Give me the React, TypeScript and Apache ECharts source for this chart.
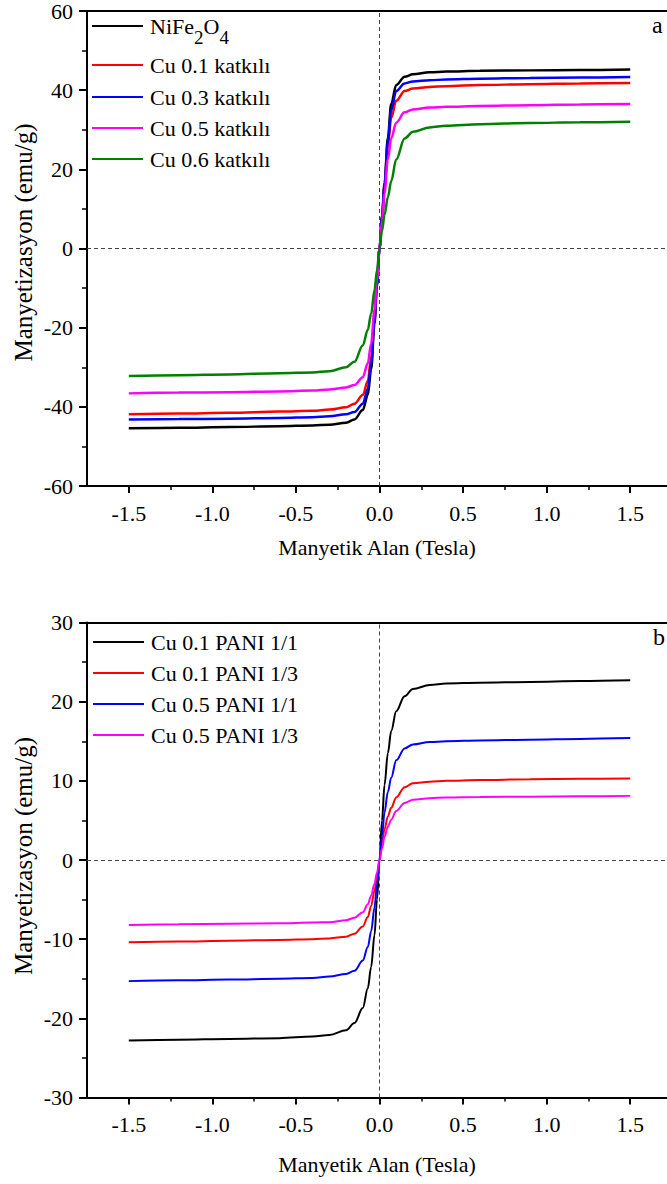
import React, { useEffect, useRef } from "react";
import * as echarts from "echarts";

// Applied field (Tesla), shared by every curve
const fieldTesla = [
  -1.5, -1.2, -0.9, -0.6, -0.4, -0.3, -0.2, -0.15, -0.1, -0.07, -0.05, -0.03, -0.015, 0,
  0.015, 0.03, 0.05, 0.07, 0.1, 0.15, 0.2, 0.3, 0.4, 0.6, 0.9, 1.2, 1.5,
];

// Panel a: doped ferrites (emu/g)
const nife2o4 = [
  -45.4, -45.3, -45.1, -44.9, -44.7, -44.5, -44.0, -43.2, -40.8, -37.0, -30.5, -19.0, -9.5, 0,
  8.3, 16.5, 28.0, 36.5, 41.3, 43.4, 44.0, 44.5, 44.7, 44.9, 45.0, 45.1, 45.2,
];
const cu01 = [
  -41.9, -41.7, -41.5, -41.2, -41.0, -40.7, -40.1, -39.2, -37.0, -33.5, -27.5, -17.0, -8.5, 0,
  7.8, 15.5, 26.0, 33.0, 37.3, 39.8, 40.4, 40.8, 41.0, 41.3, 41.5, 41.7, 41.8,
];
const cu03 = [
  -43.2, -43.1, -43.0, -42.8, -42.6, -42.4, -41.9, -41.3, -39.2, -35.5, -29.0, -18.0, -9.0, 0,
  8.0, 16.0, 27.0, 35.0, 39.8, 41.7, 42.2, 42.5, 42.7, 42.9, 43.1, 43.2, 43.3,
];
const cu05 = [
  -36.6, -36.4, -36.3, -36.1, -35.9, -35.6, -35.1, -34.5, -32.5, -29.0, -24.0, -15.5, -7.8, 0,
  7.0, 14.0, 22.5, 27.8, 31.8, 34.4, 35.1, 35.6, 35.8, 36.0, 36.2, 36.4, 36.5,
];
const cu06 = [
  -32.2, -32.0, -31.8, -31.5, -31.3, -31.0, -30.0, -28.6, -24.5, -20.5, -16.5, -10.5, -5.5, 0,
  4.5, 8.5, 13.0, 17.0, 22.5, 27.8, 29.5, 30.6, 31.0, 31.4, 31.7, 31.9, 32.0,
];

// Panel b: PANI composites (emu/g)
const cu01Pani11 = [
  -22.8, -22.7, -22.6, -22.5, -22.3, -22.1, -21.5, -20.6, -18.7, -16.2, -13.5, -9.5, -5.0, 0,
  5.0, 9.5, 13.5, 16.3, 18.8, 20.7, 21.6, 22.1, 22.3, 22.4, 22.5, 22.6, 22.7,
];
const cu01Pani13 = [
  -10.4, -10.3, -10.2, -10.1, -10.0, -9.9, -9.7, -9.3, -8.4, -7.2, -5.8, -3.9, -2.0, 0,
  2.0, 3.9, 5.5, 6.6, 7.9, 9.2, 9.7, 9.9, 10.0, 10.1, 10.2, 10.25, 10.3,
];
const cu05Pani11 = [
  -15.3, -15.2, -15.1, -15.0, -14.9, -14.7, -14.4, -14.0, -12.7, -11.0, -9.0, -6.0, -3.1, 0,
  3.1, 6.0, 8.6, 10.4, 12.6, 14.1, 14.6, 14.9, 15.0, 15.1, 15.2, 15.3, 15.4,
];
const cu05Pani13 = [
  -8.2, -8.1, -8.05, -8.0, -7.9, -7.85, -7.6, -7.3, -6.6, -5.6, -4.5, -3.0, -1.6, 0,
  1.5, 2.9, 4.2, 5.1, 6.2, 7.2, 7.6, 7.8, 7.9, 7.95, 8.0, 8.05, 8.1,
];

const namesA = ["NiFe2O4", "Cu 0.1 katkılı", "Cu 0.3 katkılı", "Cu 0.5 katkılı", "Cu 0.6 katkılı"];
const namesB = ["Cu 0.1 PANI 1/1", "Cu 0.1 PANI 1/3", "Cu 0.5 PANI 1/1", "Cu 0.5 PANI 1/3"];

const xMajor = [-1.5, -1.0, -0.5, 0, 0.5, 1.0, 1.5];
const xMinor = [-1.25, -0.75, -0.25, 0.25, 0.75, 1.25];

const SERIF = "Liberation Serif, serif";
const X_MIN = -1.75;
const X_MAX = 1.72;

const toPairs = (ys: number[]) => fieldTesla.map((x, i) => [x, ys[i]]);

const baseText = { fontFamily: SERIF, fontWeight: "normal" as const, color: "#000" };

function xAxesFor(gridIndex: number, nameGap: number) {
  const line = { color: "#000", width: 2 };
  return [
    {
      type: "value",
      gridIndex,
      min: X_MIN,
      max: X_MAX,
      position: "bottom",
      name: "Manyetik Alan (Tesla)",
      nameLocation: "middle",
      nameGap,
      nameMoveOverlap: false,
      nameTextStyle: { ...baseText, fontSize: 22 },
      axisLine: { show: true, onZero: false, lineStyle: line },
      axisTick: { show: true, customValues: xMajor, length: 7, lineStyle: line },
      axisLabel: {
        show: true,
        customValues: xMajor,
        formatter: (v: number) => v.toFixed(1),
        margin: 16,
        ...baseText,
        fontSize: 22,
      },
      splitLine: { show: false },
    },
    {
      type: "value",
      gridIndex,
      min: X_MIN,
      max: X_MAX,
      position: "bottom",
      axisLine: { show: false, onZero: false },
      axisTick: { show: true, customValues: xMinor, length: 4, lineStyle: { color: "#000", width: 1.5 } },
      axisLabel: { show: false },
      splitLine: { show: false },
    },
    {
      type: "value",
      gridIndex,
      min: X_MIN,
      max: X_MAX,
      position: "top",
      axisLine: { show: true, onZero: false, lineStyle: line },
      axisTick: { show: false },
      axisLabel: { show: false },
      splitLine: { show: false },
    },
  ];
}

function yAxisFor(gridIndex: number, limit: number, interval: number, namePad: number) {
  const line = { color: "#000", width: 2 };
  return {
    type: "value",
    gridIndex,
    min: -limit,
    max: limit,
    interval,
    position: "left",
    name: "Manyetizasyon (emu/g)",
    nameLocation: "middle",
    nameRotate: 90,
    nameGap: 51,
    nameMoveOverlap: false,
    nameTextStyle: { ...baseText, fontSize: 25, padding: [0, 0, 0, namePad] },
    axisLine: { show: true, onZero: false, lineStyle: line },
    axisTick: { show: true, length: 8, lineStyle: line },
    minorTick: { show: true, splitNumber: 2, length: 5, lineStyle: { color: "#000", width: 1.5 } },
    axisLabel: { show: true, margin: 14, ...baseText, fontSize: 22 },
    splitLine: { show: false },
    minorSplitLine: { show: false },
  };
}

function curve(name: string, ys: number[], color: string, axis: number, width: number) {
  return {
    name,
    type: "line",
    xAxisIndex: axis * 3,
    yAxisIndex: axis,
    data: toPairs(ys),
    symbol: "none",
    showSymbol: false,
    smooth: 0.35,
    smoothMonotone: "x",
    z: 3,
    lineStyle: { color, width },
    itemStyle: { color },
  };
}

function zeroLines(axis: number) {
  return {
    name: "zero-" + axis,
    type: "line",
    xAxisIndex: axis * 3,
    yAxisIndex: axis,
    data: [],
    silent: true,
    z: 1,
    markLine: {
      silent: true,
      symbol: "none",
      label: { show: false },
      lineStyle: { type: [4, 3], color: "#444", width: 1 },
      data: [{ xAxis: 0 }, { yAxis: 0 }],
    },
  };
}

const legendText = { ...baseText, fontSize: 22, lineHeight: 24, padding: [0, 0, 0, 2] };

function legendItem(name: string, left: number, top: number) {
  return {
    data: [name],
    orient: "vertical",
    left,
    top,
    padding: 0,
    itemGap: 0,
    icon: "rect",
    itemWidth: 51,
    itemHeight: 2,
    selectedMode: false,
    textStyle: legendText,
  };
}

export default function App() {
  const ref = useRef<HTMLDivElement>(null);

  useEffect(() => {
    if (!ref.current) return;
    const chart = echarts.init(ref.current, undefined, { renderer: "svg" });

    const option = {
      animation: false,
      backgroundColor: "#fff",
      textStyle: { fontFamily: SERIF, fontWeight: "normal", color: "#000" },
      grid: [
        { left: 87, top: 11, width: 580, height: 475, outerBoundsMode: "none", containLabel: false },
        { left: 87, top: 622.5, width: 580, height: 475, outerBoundsMode: "none", containLabel: false },
      ],
      xAxis: [...xAxesFor(0, 50), ...xAxesFor(1, 56)],
      yAxis: [yAxisFor(0, 60, 20, 12), yAxisFor(1, 30, 10, 8)],
      legend: [
        {
          ...legendItem(namesA[0], 92, 5),
          formatter: () => "NiFe{s|2}O{s|4}",
          textStyle: {
            ...legendText,
            lineHeight: 42,
            rich: { s: { ...baseText, fontSize: 19, lineHeight: 24, verticalAlign: "bottom" } },
          },
        },
        legendItem(namesA[1], 92, 53),
        legendItem(namesA[2], 92, 85),
        legendItem(namesA[3], 92, 116),
        legendItem(namesA[4], 92, 147),
        legendItem(namesB[0], 93, 630),
        legendItem(namesB[1], 93, 661),
        legendItem(namesB[2], 93, 692),
        legendItem(namesB[3], 93, 723),
      ],
      graphic: [
        { type: "text", left: 652, top: 13, style: { text: "a", font: "24px Liberation Serif", fill: "#000" } },
        { type: "text", left: 653, top: 625, style: { text: "b", font: "24px Liberation Serif", fill: "#000" } },
      ],
      series: [
        zeroLines(0),
        curve(namesA[0], nife2o4, "#000000", 0, 2.5),
        curve(namesA[1], cu01, "#ff0000", 0, 2.5),
        curve(namesA[2], cu03, "#0000ff", 0, 2.5),
        curve(namesA[3], cu05, "#ff00ff", 0, 2.5),
        curve(namesA[4], cu06, "#008000", 0, 2.5),
        zeroLines(1),
        curve(namesB[0], cu01Pani11, "#000000", 1, 2),
        curve(namesB[1], cu01Pani13, "#ff0000", 1, 2),
        curve(namesB[2], cu05Pani11, "#0000ff", 1, 2),
        curve(namesB[3], cu05Pani13, "#ff00ff", 1, 2),
      ],
    };

    chart.setOption(option as any);
    return () => chart.dispose();
  }, []);

  return (
    <div
      ref={ref}
      style={{ position: "absolute", left: 0, top: 0, width: 667, height: 1184, background: "#fff" }}
    />
  );
}
